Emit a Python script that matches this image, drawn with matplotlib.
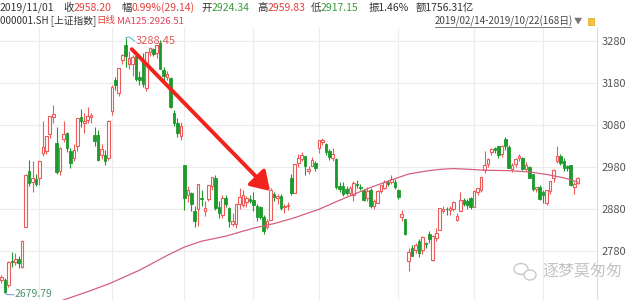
import matplotlib
matplotlib.use("Agg")
import matplotlib.pyplot as plt
from matplotlib.patches import FancyArrowPatch, Ellipse, Rectangle
import numpy as np

plt.rcParams['font.family'] = ['Noto Sans CJK SC', 'DejaVu Sans']

# ---------------- data (SSE Composite, 2019/02/14 - 2019/10/22, daily) ----------------
opens = [2711, 2712, 2700, 2758, 2754, 2762, 2743, 2838, 2970, 2945, 2952, 2954, 3015, 3018, 3060, 3100,
         3038, 2970, 3048, 3061, 3018, 3003, 3030, 3100, 3085, 3092, 3100, 3058, 3058, 3010, 3010, 3002,
         3113, 3188, 3158, 3235, 3272, 3225, 3225, 3244, 3196, 3232, 3170, 3254, 3262, 3252, 3275, 3212,
         3196, 3193, 3109, 3085, 3054, 2986, 2915, 2918, 2877, 2880, 2907, 2875, 2905, 2935, 2955, 2885,
         2866, 2908, 2883, 2846, 2845, 2893, 2890, 2898, 2905, 2902, 2888, 2885, 2862, 2838, 2855, 2917,
         2906, 2911, 2885, 2888, 2955, 2919, 2990, 3000, 3006, 2970, 2982, 2991, 3026, 3040, 3036, 3019,
         3003, 3000, 2935, 2935, 2928, 2918, 2915, 2940, 2933, 2925, 2908, 2926, 2888, 2896, 2923, 2930,
         2946, 2945, 2945, 2925, 2862, 2856, 2756, 2788, 2782, 2804, 2783, 2799, 2820, 2760, 2812, 2831,
         2875, 2881, 2879, 2880, 2855, 2876, 2902, 2900, 2906, 2886, 2921, 2925, 2974, 2989, 3016, 3026,
         3030, 3011, 3048, 3029, 2975, 2989, 3003, 3002, 2976, 2980, 2963, 2929, 2932, 2920, 2896, 2923,
         2955, 2995, 3008, 2995, 2982, 2985, 2933, 2943]
highs = [2724, 2716, 2757, 2778, 2776, 2768, 2806, 2964, 2998, 2995, 2964, 2996, 3090, 3055, 3103, 3129,
         3076, 3028, 3090, 3065, 3026, 3035, 3097, 3118, 3110, 3124, 3110, 3075, 3070, 3035, 3020, 3092,
         3176, 3195, 3217, 3250, 3288.45, 3258, 3247, 3245, 3210, 3253, 3255, 3266, 3265, 3272, 3282, 3220,
         3210, 3194, 3117, 3098, 3088, 2986, 2935, 2922, 2888, 2940, 2927, 2899, 2939, 2956, 2961, 2900,
         2915, 2915, 2885, 2870, 2893, 2930, 2925, 2912, 2915, 2920, 2893, 2889, 2866, 2858, 2930, 2920,
         2916, 2917, 2893, 2898, 2963, 2988, 3012, 3016, 3008, 2982, 3004, 2995, 3045.5, 3049, 3039, 3024,
         3025, 3003, 2945, 2945, 2936, 2936, 2948, 2950, 2940, 2928, 2933, 2930, 2904, 2927, 2938, 2949,
         2950, 2962, 2952, 2928, 2878, 2858, 2789, 2794, 2800, 2810, 2816, 2802, 2828, 2818, 2835, 2884,
         2889, 2886, 2889, 2899, 2870, 2920, 2907, 2904, 2910, 2925, 2931, 2958, 3018, 3001, 3026, 3028,
         3031, 3033, 3052, 3032, 2991, 3002, 3012, 3005, 2992, 2982, 2965, 2934, 2937, 2925, 2926, 2948,
         2976, 3030, 3012, 3003, 2986, 2986, 2945, 2957]
lows = [2705, 2679.79, 2695, 2742, 2748, 2740, 2740, 2838, 2935, 2920, 2936, 2938, 3006, 3012, 3050, 3085,
        2963, 2962, 3040, 3016, 2979, 2995, 3018, 3076, 3062, 3085, 3085, 3030, 2995, 3000, 2985, 2998,
        3105, 3165, 3150, 3225, 3220, 3215, 3198, 3186, 3175, 3172, 3162, 3245, 3245, 3240, 3214, 3180,
        3188, 3122, 3078, 3052, 3044, 2879, 2898, 2876, 2838, 2840, 2887, 2863, 2900, 2925, 2879, 2860,
        2860, 2885, 2837, 2840, 2835, 2880, 2885, 2885, 2895, 2875, 2852, 2857, 2822, 2832, 2855, 2900,
        2892, 2878, 2872, 2878, 2913, 2919, 2980, 2996, 2962, 2965, 2982, 2972, 3015, 3032, 3010, 2998,
        2995, 2928, 2920, 2912, 2915, 2912, 2900, 2930, 2925, 2900, 2900, 2883, 2880, 2895, 2918, 2928,
        2935, 2940, 2929, 2905, 2851, 2818, 2733, 2768, 2775, 2767, 2774, 2788, 2800, 2757, 2805, 2830,
        2870, 2866, 2867, 2876, 2851, 2876, 2888, 2880, 2880, 2886, 2915, 2922, 2966, 2980, 3010, 3015,
        3003, 3005, 3022, 2978, 2969, 2981, 2994, 2973, 2971, 2954, 2923, 2921, 2902, 2895, 2890, 2916,
        2945, 2991, 2985, 2970, 2970, 2936, 2917, 2940]
closes = [2719.70, 2682.39, 2754.36, 2755.65, 2761.22, 2751.80, 2804.23, 2961.28, 2941.52, 2953.82, 2940.95,
          2994.01, 3027.58, 3054.25, 3102.10, 3106.42, 2969.86, 3026.99, 3060.31, 3026.95, 2990.69, 3021.75,
          3096.42, 3090.98, 3090.64, 3101.46, 3104.15, 3043.03, 2997.10, 3022.72, 2994.94, 3090.76, 3170.36,
          3176.82, 3216.30, 3246.57, 3244.81, 3239.66, 3241.93, 3189.96, 3188.63, 3177.79, 3253.60, 3263.12,
          3250.20, 3270.80, 3215.04, 3198.59, 3201.61, 3123.83, 3086.40, 3062.50, 3078.34, 2906.46, 2926.39,
          2893.76, 2850.95, 2939.21, 2903.71, 2883.61, 2938.68, 2955.71, 2882.30, 2870.60, 2905.97, 2891.70,
          2852.52, 2852.99, 2892.38, 2909.91, 2914.70, 2905.81, 2898.70, 2890.08, 2862.28, 2861.42, 2827.80,
          2852.13, 2925.72, 2909.38, 2910.74, 2881.97, 2887.62, 2890.16, 2917.80, 2987.12, 3001.98, 3008.15,
          2982.07, 2976.28, 2996.79, 2978.88, 3044.90, 3043.94, 3015.26, 3005.25, 3011.06, 2933.36, 2928.23,
          2915.30, 2917.76, 2930.55, 2942.19, 2937.62, 2931.69, 2901.19, 2924.20, 2886.97, 2899.94, 2923.28,
          2937.36, 2944.54, 2941.01, 2952.34, 2932.51, 2908.77, 2867.84, 2821.50, 2777.56, 2768.68, 2794.55,
          2774.75, 2814.99, 2797.26, 2808.91, 2815.80, 2823.82, 2883.10, 2880.33, 2880.00, 2883.44, 2897.43,
          2863.57, 2902.19, 2893.76, 2890.92, 2886.24, 2924.11, 2930.15, 2957.41, 2985.86, 2999.60, 3024.74,
          3021.20, 3008.81, 3031.24, 3030.75, 2978.12, 2985.66, 2999.28, 3006.45, 2977.08, 2985.34, 2955.43,
          2929.09, 2932.17, 2905.19, 2913.57, 2924.86, 2947.71, 2973.66, 3007.88, 2991.05, 2978.71, 2977.33,
          2938.14, 2939.62, 2954.38]

# MA125 at selected candles
ma_idx = [8, 18, 25, 31, 40, 48, 53, 58, 65, 73, 79, 85, 92, 97, 101, 107, 113, 118, 123, 127, 131,
          136, 140, 147, 153, 158, 163, 167]
ma_val = [2640, 2664, 2684, 2702, 2735, 2770, 2790, 2804, 2816, 2835, 2846, 2860, 2880, 2898, 2912,
          2932, 2950, 2964, 2971, 2975, 2977, 2975, 2973, 2972, 2969, 2963, 2955, 2945]

month_starts = [11, 32, 53, 73, 92, 115, 137, 157]   # first trading day of each month
yticks = [2780, 2880, 2980, 3080, 3180, 3280]
peak_idx, peak_val = 36, 3288.45
low_idx, low_val = 1, 2679.79
arrow_from = (37.2, 3266)
arrow_to = (78.4, 2919)

RED = '#ee5a5a'
GREEN = '#1d9a2c'

# ---------------- figure ----------------
W, H = 640, 300
fig = plt.figure(figsize=(W / 100, H / 100), dpi=100)
fig.patch.set_facecolor('white')
ax = fig.add_axes([0, 0, 597 / W, (H - 28) / H])
ax.set_xlim(-0.43, 172.6)
ax.set_ylim(2664, 3311.7)

o = np.array(opens, float); h = np.array(highs, float)
l = np.array(lows, float); c = np.array(closes, float)
x = np.arange(len(c))
up = c >= o

# grid
for m in month_starts:
    ax.axvline(m, color='#ececec', lw=0.8, zorder=0)
for t in yticks:
    ax.axhline(t, color='#ececec', lw=0.8, zorder=0)

# wicks
ax.vlines(x[up], l[up], h[up], color=RED, lw=0.8, zorder=2)
ax.vlines(x[~up], l[~up], h[~up], color=GREEN, lw=0.8, zorder=2)
# bodies
bw = 0.75
bot = np.minimum(o, c)
ht = np.maximum(np.abs(c - o), 1.2)
ax.bar(x[up], ht[up], bottom=bot[up], width=bw, facecolor='white', edgecolor=RED, lw=0.8, zorder=3)
ax.bar(x[~up], ht[~up], bottom=bot[~up], width=bw, facecolor=GREEN, edgecolor=GREEN, lw=0.6, zorder=3)

# MA125
ax.plot(ma_idx, ma_val, color='#d4607e', lw=0.9, zorder=4)

# peak / low labels
ax.plot([peak_idx, peak_idx + 1.0, peak_idx + 2.6], [peak_val, peak_val + 2, peak_val - 8],
        color='#6bbfcf', lw=0.8, zorder=5)
ax.text(peak_idx + 2.9, peak_val - 8, '3288.45', color='#e05a5a', fontsize=8, va='center', ha='left', zorder=6)
ax.plot([low_idx, low_idx + 0.8, low_idx + 2.6], [low_val, low_val - 3, low_val - 3],
        color='#7ea6d8', lw=0.8, zorder=5)
ax.text(low_idx + 2.9, low_val - 2, '2679.79', color='#4f9270', fontsize=7.5, va='center', ha='left', zorder=6)

# arrow
arr = FancyArrowPatch(arrow_from, arrow_to, arrowstyle='-|>,head_length=5,head_width=3.2',
                      mutation_scale=2.2, color='#f2231d', lw=2.8, zorder=7)
ax.add_patch(arr)

# axes styling
for s in ['top', 'left', 'bottom']:
    ax.spines[s].set_visible(False)
ax.spines['right'].set_color('#dcdcdc')
ax.spines['right'].set_linewidth(0.8)
ax.yaxis.tick_right()
ax.set_yticks(yticks)
ax.set_yticklabels([str(t) for t in yticks], fontsize=8, color='#555555')
ax.tick_params(axis='y', length=0, pad=3)
ax.set_xticks([])

# ---------------- header text ----------------
def ftext(px, py, s, color='#333333', size=7.0, **kw):
    fig.text(px / W, 1 - py / H, s, color=color, fontsize=size, va='center', ha='left', **kw)

R1, R2 = 8, 21
F1 = 7.5
HR = '#e2403c'; HG = '#3b9a3b'
ftext(0, R1, '2019/11/01', size=F1)
ftext(63, R1, '收', size=F1); ftext(74, R1, '2958.20', HR, size=F1)
ftext(121, R1, '幅', size=F1); ftext(132, R1, '0.99%(29.14)', HR, size=F1)
ftext(201, R1, '开', size=F1); ftext(212, R1, '2924.34', HG, size=F1)
ftext(257, R1, '高', size=F1); ftext(268, R1, '2959.83', HR, size=F1)
ftext(311, R1, '低', size=F1); ftext(321, R1, '2917.15', HG, size=F1)
ftext(369, R1, '振1.46%', size=F1)
ftext(416, R1, '额1756.31亿', size=F1)

ftext(0, R2, '000001.SH [上证指数]')
ftext(96, R2, '日线', HR, size=6.8)
ftext(117, R2, 'MA125:2926.51', '#e0405e', size=6.9)
ftext(435, R2, '2019/02/14-2019/10/22(168日)', '#444444')
fig.add_artist(plt.Line2D([435 / W, 571 / W], [1 - 27 / H, 1 - 27 / H], color='#666666', lw=0.6))
ftext(574, R2, '▼', '#777777', size=6.0)
fig.add_artist(Rectangle((588 / W, 1 - 25 / H), 6 / W, 7 / H, facecolor='#f5c542', edgecolor='#e0a020',
                         lw=0.5, transform=fig.transFigure))

# ---------------- watermark ----------------
fig.add_artist(Ellipse((521 / W, 1 - 269 / H), 14 / W, 11 / H, facecolor='none', edgecolor='#c9c9c9',
                       lw=1.0, transform=fig.transFigure))
fig.add_artist(Ellipse((530 / W, 1 - 275 / H), 12 / W, 10 / H, facecolor='white', edgecolor='#c9c9c9',
                       lw=1.0, transform=fig.transFigure))
ftext(542, 272, '逐梦莫匆匆', '#c4c4c4', size=11.5)

fig.savefig('out.png', dpi=100, facecolor='white')
